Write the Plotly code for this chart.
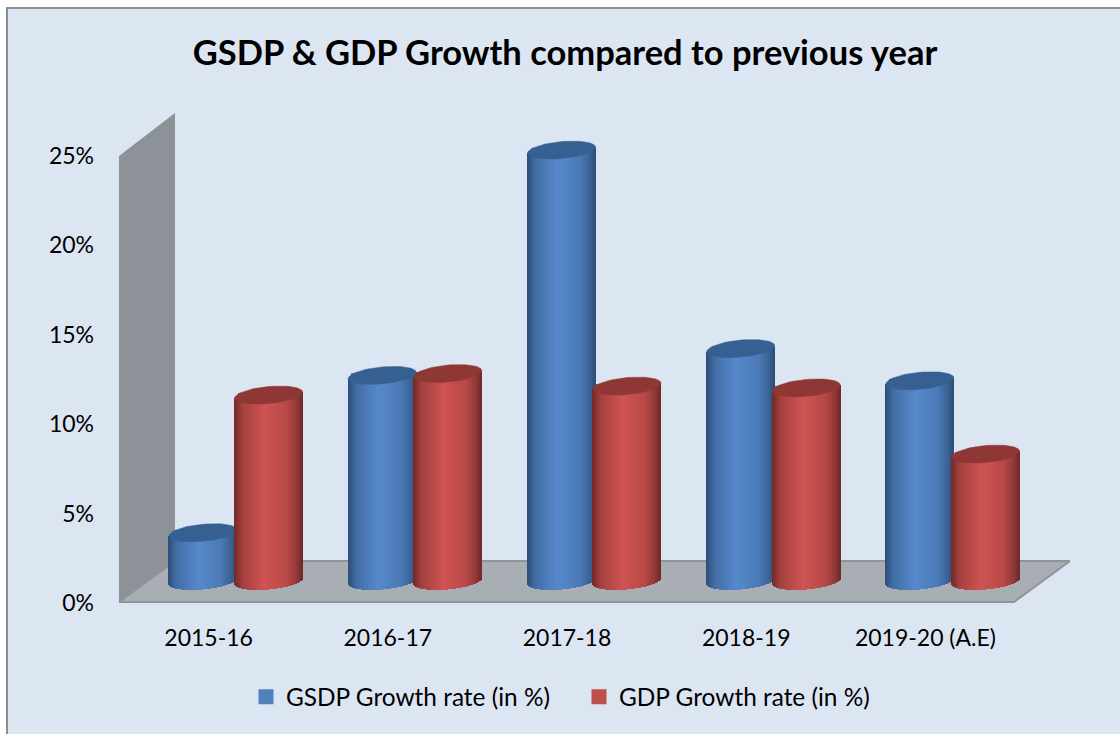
import numpy as np
import plotly.graph_objects as go

categories = ["2015-16", "2016-17", "2017-18", "2018-19", "2019-20 (A.E)"]
gsdp_growth = [2.7, 11.5, 24.1, 13.0, 11.2]
gdp_growth = [10.4, 11.6, 10.9, 10.8, 7.1]
y_ticks = [0, 5, 10, 15, 20, 25]

# figure geometry in page pixels
W, H = 1120, 734
L, R, T, B = 119, 1070, 113, 603
PX_PER_CAT = 179.2
PX_PER_PCT = 17.88
DEPTH_X, DEPTH_Y = 56, 42          # box depth
BAR_DX, BAR_DY = 27, 22            # where bars stand within the depth
HALF_W = 34
CAP_B, CAP_TILT = 8.5, 3.0
FONT = "Lato"


def xpx(p):
    return (p - (L + PX_PER_CAT / 2)) / PX_PER_CAT


def ypx(p):
    return (B - p) / PX_PER_PCT


def px_paper(p):
    return (p - L) / (R - L)


def py_paper(p):
    return (B - p) / (B - T)


def shade(t, dark, mid, light):
    knots = [-1, -0.75, -0.1, 0.55, 0.85, 1]
    level = [0.0, 0.55, 1.0, 0.75, 0.35, 0.0]
    v = np.interp(t, knots, level)
    c = np.array(dark) + (np.array(light) - np.array(dark)) * v
    return "rgb(%d,%d,%d)" % tuple(c)


def cylinder(values, offset_px, name, dark, mid, light, cap, axes):
    xa, ya = axes
    base0 = BAR_DY / PX_PER_PCT
    dxc = (BAR_DX + offset_px) / PX_PER_CAT
    centers = [i + dxc for i in range(len(values))]
    hw = HALF_W / PX_PER_CAT
    traces = [go.Bar(
        x=centers, y=values, base=[base0] * len(values), width=hw * 1.7,
        marker=dict(color=mid, line=dict(width=3, color=mid)), name=name,
        hoverinfo="skip", xaxis=xa, yaxis=ya,
    )]
    n = 2 * HALF_W
    ts = (np.arange(n) + 0.5) / n * 2 - 1
    sx, sy, sb, sw, sc = [], [], [], [], []
    for cx, v in zip(centers, values):
        for t in ts:
            tilt = CAP_TILT * t / PX_PER_PCT
            low = base0 + tilt - CAP_B * np.sqrt(1 - t * t) / PX_PER_PCT
            top = base0 + v + tilt
            sx.append(cx + t * hw)
            sb.append(low)
            sy.append(top - low)
            sw.append(2 * hw / n * 1.25)
            sc.append(shade(t, dark, mid, light))
    traces.append(go.Bar(
        x=sx, y=sy, base=sb, width=sw, marker=dict(color=sc, line=dict(width=0)),
        showlegend=False, hoverinfo="skip", xaxis=xa, yaxis=ya,
    ))
    a = np.linspace(0, 2 * np.pi, 73)
    ex, ey = [], []
    for cx, v in zip(centers, values):
        ex += list(cx + hw * np.cos(a)) + [None]
        ey += list(base0 + v + (CAP_TILT * np.cos(a) + CAP_B * np.sin(a)) / PX_PER_PCT) + [None]
    traces.append(go.Scatter(
        x=ex, y=ey, mode="lines", fill="toself", fillcolor=cap, line=dict(color=cap, width=0.5),
        showlegend=False, hoverinfo="skip", xaxis=xa, yaxis=ya,
    ))
    return traces


fig = go.Figure()
for tr in cylinder(gsdp_growth, -32.5, "GSDP Growth rate (in %)", (44, 78, 120), "#4F81BD",
                   (86, 137, 204), "#376092", ("x", "y")):
    fig.add_trace(tr)
for tr in cylinder(gdp_growth, 33, "GDP Growth rate (in %)", (112, 42, 40), "#C0504D",
                   (207, 84, 82), "#8E3735", ("x2", "y2")):
    fig.add_trace(tr)


def poly(points):
    return "M" + " L".join(f"{xpx(a):.5f},{ypx(b):.5f}" for a, b in points) + " Z"


shapes = [
    dict(type="rect", xref="paper", yref="paper", x0=px_paper(7), x1=px_paper(W + 20),
         y0=py_paper(8), y1=py_paper(H + 20), fillcolor="#DCE6F2",
         line=dict(color="#8C8C8C", width=2), layer="below"),
    dict(type="path", xref="x", yref="y", layer="below",
         path=poly([(L, 156), (L + DEPTH_X, T), (L + DEPTH_X, B - DEPTH_Y), (L, B)]),
         fillcolor="#8D9299", line=dict(width=0)),
    dict(type="path", xref="x", yref="y", layer="below",
         path=poly([(L, B - 1), (L + DEPTH_X, B - DEPTH_Y), (R, B - DEPTH_Y), (R - DEPTH_X, B - 1)]),
         fillcolor="#A9AEB4", line=dict(color="#8F9499", width=2)),
]

common_axis = dict(showgrid=False, zeroline=False, showline=False, ticks="")
fig.update_layout(
    width=W, height=H, autosize=False,
    margin=dict(l=L, r=W - R, t=T, b=H - B, pad=0),
    paper_bgcolor="white", plot_bgcolor="rgba(0,0,0,0)",
    barmode="overlay", bargap=0,
    shapes=shapes,
    font=dict(family=FONT, color="#000000", size=23),
    title=dict(text="<b>GSDP &amp; GDP Growth compared to previous year</b>",
               font=dict(family=FONT, size=34.5, color="#000000"),
               x=565 / W, xanchor="center", y=1 - 53 / H, yanchor="middle"),
    xaxis=dict(range=[xpx(L), xpx(R)], tickmode="array", tickvals=list(range(len(categories))),
               ticktext=categories, ticklabelstandoff=19, tickfont=dict(size=23),
               **common_axis),
    yaxis=dict(range=[0, ypx(T)], tickmode="array", tickvals=y_ticks,
               ticktext=[f"{v}%" for v in y_ticks], ticklabelstandoff=24,
               tickfont=dict(size=23), **common_axis),
    xaxis2=dict(matches="x", overlaying="x", visible=False),
    yaxis2=dict(matches="y", overlaying="y", visible=False),
    legend=dict(orientation="h", xanchor="left", x=px_paper(246), yanchor="middle",
                y=py_paper(697), font=dict(size=24.4), bgcolor="rgba(0,0,0,0)",
                traceorder="normal", entrywidth=288, entrywidthmode="pixels"),
)

fig.write_html("out.html", config={"displayModeBar": False},
               post_script="document.body.style.margin='0';document.body.style.overflow='hidden';")
